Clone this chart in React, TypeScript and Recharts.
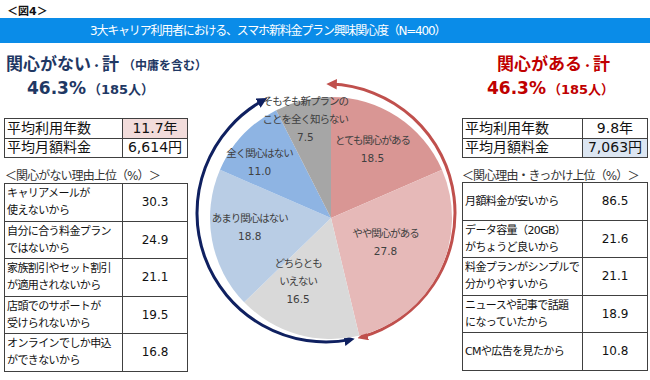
import { PieChart, Pie, Cell, Customized } from "recharts"

// slices go clockwise from 12 o'clock
const sliceNames = [
  "とても関心がある",
  "やや関心がある",
  "どちらともいえない",
  "あまり関心はない",
  "全く関心はない",
  "そもそも新プランのことを全く知らない",
]
const sliceLabelLines = [
  ["とても関心がある"],
  ["やや関心がある"],
  ["どちらとも", "いえない"],
  ["あまり関心はない"],
  ["全く関心はない"],
  ["そもそも新プランの", "ことを全く知らない"],
]
const sliceValues = [18.5, 27.8, 16.5, 18.8, 11.0, 7.5]
const sliceColors = ["#D99694", "#E6B9B8", "#D9D9D9", "#B9CDE5", "#8EB4E3", "#A6A6A6"]

const statLabels = ["平均利用年数", "平均月額料金"]
const noStatValues = ["11.7年", "6,614円"]
const yesStatValues = ["9.8年", "7,063円"]

const noReasons = [
  "キャリアメールが\n使えないから",
  "自分に合う料金プラン\nではないから",
  "家族割引やセット割引\nが適用されないから",
  "店頭でのサポートが\n受けられないから",
  "オンラインでしか申込\nができないから",
]
const noReasonValues = [30.3, 24.9, 21.1, 19.5, 16.8]

const yesReasons = [
  "月額料金が安いから",
  "データ容量（20GB）\nがちょうど良いから",
  "料金プランがシンプルで\n分かりやすいから",
  "ニュースや記事で話題\nになっていたから",
  "CMや広告を見たから",
]
const yesReasonValues = [86.5, 21.6, 21.1, 18.9, 10.8]

const pieData = sliceNames.map((name, i) => ({ name, value: sliceValues[i] }))

const CX = 326
const CY = 213
const R = 121
const labelRadius = [0.65, 0.55, 0.61, 0.64, 0.69, 0.79]
const labelShift = [3, 0, 6, 0, -6, 1] // degrees, nudge along the arc

const JP = '"DejaVu Sans", "Noto Sans CJK JP", sans-serif'
const NAVY = "#1F3864"
const RED = "#C00000"
const LINE = "1px solid #404040"

function renderSliceLabel(props: any) {
  const { midAngle, index } = props
  const r = R * labelRadius[index]
  const rad = (-(midAngle - labelShift[index]) * Math.PI) / 180
  const x = CX + r * Math.cos(rad)
  const y = CY + r * Math.sin(rad)
  const names = sliceLabelLines[index]
  const n = names.length + 1
  const top = y - (n - 1) * 9
  return (
    <text x={x} y={top} textAnchor="middle" fill="#404040" fontSize={10.5} fontFamily={JP}>
      {names.map((l, i) => (
        <tspan key={i} x={x} y={top + i * 18} dy="0.35em" letterSpacing={-1}>
          {l}
        </tspan>
      ))}
      <tspan x={x} y={top + names.length * 18} dy="0.35em">
        {sliceValues[index].toFixed(1)}
      </tspan>
    </text>
  )
}

function GroupArrows() {
  const total = sliceValues.reduce((s, v) => s + v, 0)
  const redEnd = ((sliceValues[0] + sliceValues[1]) / total) * 360
  const navyEnd = redEnd + ((sliceValues[2] + sliceValues[3] + sliceValues[4]) / total) * 360
  const rr = 129
  const pt = (deg: number) => {
    const a = (deg * Math.PI) / 180
    return `${CX + rr * Math.sin(a)},${CY - rr * Math.cos(a)}`
  }
  const arc = (a0: number, a1: number) =>
    `M${pt(a0)} A${rr},${rr} 0 ${a1 - a0 > 180 ? 1 : 0} 1 ${pt(a1)}`
  return (
    <g>
      <defs>
        <marker id="ah-red" viewBox="0 0 10 10" refX="6" refY="5" markerWidth="3.5" markerHeight="3.5" orient="auto-start-reverse">
          <path d="M0,0 L10,5 L0,10 z" fill="#C0504D" />
        </marker>
        <marker id="ah-navy" viewBox="0 0 10 10" refX="6" refY="5" markerWidth="3.5" markerHeight="3.5" orient="auto-start-reverse">
          <path d="M0,0 L10,5 L0,10 z" fill="#0F2060" />
        </marker>
      </defs>
      <path d={arc(2, redEnd - 2.5)} fill="none" stroke="#C0504D" strokeWidth={3}
        markerStart="url(#ah-red)" markerEnd="url(#ah-red)" />
      <path d={arc(redEnd + 2.5, navyEnd - 2)} fill="none" stroke="#0F2060" strokeWidth={3}
        markerStart="url(#ah-navy)" markerEnd="url(#ah-navy)" />
    </g>
  )
}

function StatTable({ left, firstCol, width, values, hlIndex, hlColor }: any) {
  return (
    <table style={{ position: "absolute", left, top: 118, width, borderCollapse: "collapse", tableLayout: "fixed", fontSize: 14, color: "#111" }}>
      <tbody>
        {statLabels.map((lab, i) => (
          <tr key={lab} style={{ height: 19.5 }}>
            <td style={{ width: firstCol, border: LINE, padding: "0 2px", lineHeight: "17px" }}>{lab}</td>
            <td style={{ border: LINE, textAlign: "center", padding: 0, lineHeight: "17px", background: i === hlIndex ? hlColor : "#fff" }}>
              {values[i]}
            </td>
          </tr>
        ))}
      </tbody>
    </table>
  )
}

function ReasonTable({ left, top, firstCol, width, reasons, values }: any) {
  return (
    <table style={{ position: "absolute", left, top, width, borderCollapse: "collapse", tableLayout: "fixed", color: "#111" }}>
      <tbody>
        {reasons.map((txt: string, i: number) => (
          <tr key={i} style={{ height: 37.5 }}>
            <td style={{ width: firstCol, border: LINE, padding: "0 2px", fontSize: 11, lineHeight: "17px", whiteSpace: "pre-line", letterSpacing: -0.6 }}>
              {txt}
            </td>
            <td style={{ border: LINE, textAlign: "center", padding: 0, fontSize: 12 }}>{values[i].toFixed(1)}</td>
          </tr>
        ))}
      </tbody>
    </table>
  )
}

const dot = <span style={{ fontSize: 11 }}>・</span>

export default function App() {
  return (
    <div style={{ position: "relative", width: 650, height: 380, background: "#fff", fontFamily: JP, overflow: "hidden" }}>
      <style>{`body{margin:0}`}</style>

      <div style={{ position: "absolute", left: 7, top: 2, fontSize: 11, fontWeight: 700, color: "#111" }}>＜図4＞</div>
      <div style={{ position: "absolute", left: 0, top: 18, width: 650, height: 25, background: "#0A8CE8" }} />
      <div style={{ position: "absolute", left: 90, top: 21, fontSize: 12, color: "#fff", letterSpacing: -1.2, whiteSpace: "nowrap" }}>
        3大キャリア利用者における、スマホ新料金プラン興味関心度（N=400）
      </div>

      {/* left side: not interested */}
      <div style={{ position: "absolute", left: 6, top: 50, color: NAVY, fontWeight: 700, whiteSpace: "nowrap" }}>
        <span style={{ fontSize: 17 }}>関心がない{dot}計</span>
        <span style={{ fontSize: 12, marginLeft: 4 }}>（中庸を含む）</span>
      </div>
      <div style={{ position: "absolute", left: 27, top: 78, color: NAVY, fontWeight: 700, whiteSpace: "nowrap" }}>
        <span style={{ fontSize: 17 }}>46.3%</span>
        <span style={{ fontSize: 13, marginLeft: 2 }}>（185人）</span>
      </div>
      <StatTable left={4} firstCol={113} width={184} values={noStatValues} hlIndex={0} hlColor="#F2DCDB" />
      <div style={{ position: "absolute", left: 5, top: 166, fontSize: 12, color: "#333", whiteSpace: "nowrap", letterSpacing: -0.9 }}>
        ＜関心がない理由上位（%）＞
      </div>
      <ReasonTable left={4} top={183} firstCol={113} width={184} reasons={noReasons} values={noReasonValues} />

      {/* right side: interested */}
      <div style={{ position: "absolute", left: 497, top: 50, color: RED, fontWeight: 700, fontSize: 17, whiteSpace: "nowrap" }}>
        関心がある{dot}計
      </div>
      <div style={{ position: "absolute", left: 487, top: 78, color: RED, fontWeight: 700, whiteSpace: "nowrap" }}>
        <span style={{ fontSize: 17 }}>46.3%</span>
        <span style={{ fontSize: 13, marginLeft: 2 }}>（185人）</span>
      </div>
      <StatTable left={462} firstCol={115} width={186} values={yesStatValues} hlIndex={1} hlColor="#DCE6F2" />
      <div style={{ position: "absolute", left: 462, top: 166, fontSize: 12, color: "#333", whiteSpace: "nowrap", letterSpacing: -0.9 }}>
        ＜関心理由・きっかけ上位（%）＞
      </div>
      <ReasonTable left={462} top={182} firstCol={115} width={186} reasons={yesReasons} values={yesReasonValues} />

      <div style={{ position: "absolute", left: 0, top: 0 }}>
        <PieChart width={650} height={380}>
          <Pie
            data={pieData}
            dataKey="value"
            nameKey="name"
            cx={CX}
            cy={CY}
            outerRadius={R}
            startAngle={90}
            endAngle={-270}
            stroke="none"
            label={renderSliceLabel}
            labelLine={false}
            isAnimationActive={false}
          >
            {pieData.map((d, i) => (
              <Cell key={d.name} fill={sliceColors[i]} />
            ))}
          </Pie>
          <Customized component={GroupArrows} />
        </PieChart>
      </div>
    </div>
  )
}
